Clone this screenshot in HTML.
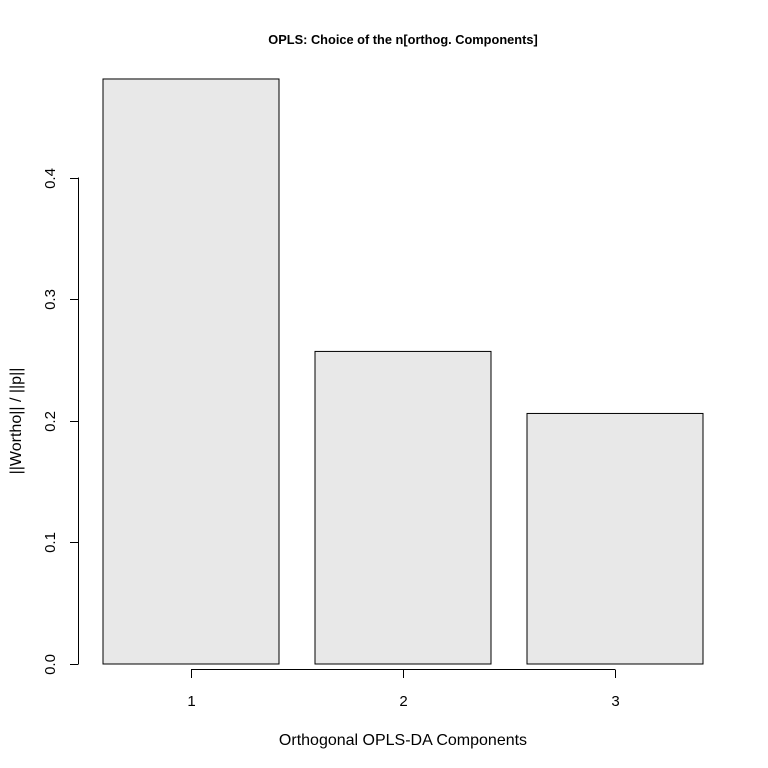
<!DOCTYPE html>
<html><head><meta charset="utf-8"><style>
html,body{margin:0;padding:0;background:#fff;}
svg{display:block;font-family:"Liberation Sans",Arial,sans-serif;}
</style></head><body>
<svg id="chart" width="768" height="768" viewBox="0 0 768 768">
<text x="403" y="44" text-anchor="middle" font-size="12.8" font-weight="bold">OPLS: Choice of the n[orthog. Components]</text>
<text x="403" y="745" text-anchor="middle" font-size="16">Orthogonal OPLS-DA Components</text>
<text transform="translate(21,421) rotate(-90)" text-anchor="middle" font-size="16">||Wortho|| / ||p||</text>
<g id="bars"></g>
<g id="yaxis"></g>
<g id="xaxis"></g>
</svg>
<script>
const categories = ["1","2","3"];
const values = [0.481, 0.257, 0.206];
const yTicks = [0, 0.1, 0.2, 0.3, 0.4];
const yTickLabels = ["0.0","0.1","0.2","0.3","0.4"];
const NS="http://www.w3.org/2000/svg";
const y0=664, scale=1216.25;
function yPos(v){return y0-v*scale;}
const barLeft0=103, barW=176, gap=36;
function xCenter(i){return barLeft0+barW/2+i*(barW+gap);}
function mk(tag,attrs,parent){const e=document.createElementNS(NS,tag);for(const k in attrs)e.setAttribute(k,attrs[k]);parent.appendChild(e);return e;}
const gb=document.getElementById('bars');
values.forEach((v,i)=>{
  const r=mk('rect',{x:xCenter(i)-barW/2,y:yPos(v),width:barW,height:y0-yPos(v),fill:'#e8e8e8',stroke:'#000','stroke-width':1},gb);
  
  
});
const gy=document.getElementById('yaxis');
const yl=mk('line',{x1:78.5,x2:78.5,y1:yPos(yTicks[yTicks.length-1]),y2:yPos(yTicks[0]),stroke:'#000'},gy);


yTicks.forEach((t,i)=>{
  const p=Math.round(yPos(t))+0.5;
  const tk=mk('line',{x1:70,x2:78.5,y1:p,y2:p,stroke:'#000'},gy);
  
  
  const tx=mk('text',{transform:`translate(55,${p}) rotate(-90)`,'text-anchor':'middle','font-size':15},gy);
  tx.textContent=yTickLabels[i];
  
  
});
const gx=document.getElementById('xaxis');
const xl=mk('line',{x1:xCenter(0),x2:xCenter(categories.length-1),y1:669.5,y2:669.5,stroke:'#000'},gx);


categories.forEach((c,i)=>{
  const x=Math.round(xCenter(i))+0.5;
  const tk=mk('line',{x1:x,x2:x,y1:669.5,y2:678,stroke:'#000'},gx);
  
  
  const tx=mk('text',{x:x,y:706,'text-anchor':'middle','font-size':15},gx);
  tx.textContent=c;
  
  
});
</script>
</body></html>
